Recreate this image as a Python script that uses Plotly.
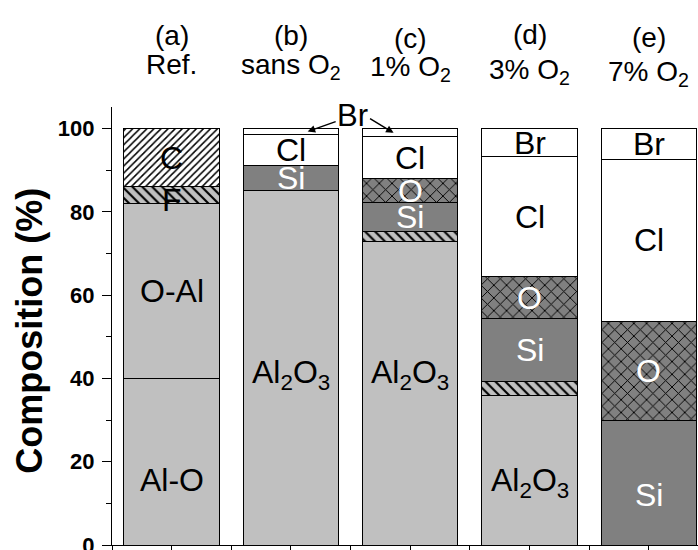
import plotly.graph_objects as go

# ---------------- data ----------------
categories = [0, 1, 2, 3, 4]
header_top = ["(a)", "(b)", "(c)", "(d)", "(e)"]
header_bottom = ["Ref.", "sans O<sub>2</sub>", "1% O<sub>2</sub>", "3% O<sub>2</sub>", "7% O<sub>2</sub>"]

al = [40.0, 85.1, 73.0, 36.0, None]      # Al-O (a) / Al2O3 (b-d)
o_al = [42.0, None, None, None, None]    # O-Al (a)
f = [4.0, None, 2.2, 3.3, None]
si = [None, 6.1, 7.0, 15.1, 30.0]
o = [None, None, 5.8, 10.0, 23.6]
c = [14.0, None, None, None, None]
cl = [None, 7.4, 10.0, 28.8, 39.1]
br = [None, 1.4, 2.0, 6.8, 7.3]

y_ticks = [0, 20, 40, 60, 80, 100]

FONT = "Arial, 'Liberation Sans', sans-serif"

series = [
    ("Al", al, dict(color="#C0C0C0")),
    ("O-Al", o_al, dict(color="#C0C0C0")),
    ("F", f, dict(color="#C0C0C0", pattern=dict(shape="\\", fgcolor="black", bgcolor="#C0C0C0", size=7, solidity=0.3))),
    ("Si", si, dict(color="#808080")),
    ("O", o, dict(color="#808080", pattern=dict(shape="x", fgcolor="black", bgcolor="#808080", size=9, solidity=0.2))),
    ("C", c, dict(color="white", pattern=dict(shape="/", fgcolor="black", bgcolor="white", size=5, solidity=0.3))),
    ("Cl", cl, dict(color="white")),
    ("Br", br, dict(color="white")),
]

fig = go.Figure()
for name, vals, mk in series:
    mk = dict(mk)
    mk["line"] = dict(color="black", width=1)
    fig.add_trace(go.Bar(x=categories, y=vals, name=name, width=0.8, marker=mk,
                         showlegend=False, hoverinfo="skip"))

# segment bases
bases = {}
for i in categories:
    cum = 0.0
    for name, vals, _ in series:
        v = vals[i]
        if v is not None:
            bases[(i, name)] = (cum, v)
            cum += v

# in-bar labels: (category, component, text, colour, offset in %)
labels = [
    (0, "C", "C", "black", 0), (0, "F", "F", "black", -1.2),
    (0, "O-Al", "O-Al", "black", 0), (0, "Al", "Al-O", "black", -4.5),
    (1, "Cl", "Cl", "black", 0), (1, "Si", "Si", "white", 0),
    (1, "Al", "Al<sub>2</sub>O<sub>3</sub>", "black", -1.5),
    (2, "Cl", "Cl", "black", 0), (2, "O", "O", "white", 0),
    (2, "Si", "Si", "white", 0), (2, "Al", "Al<sub>2</sub>O<sub>3</sub>", "black", 4.5),
    (3, "Br", "Br", "black", 0), (3, "Cl", "Cl", "black", 0),
    (3, "O", "O", "white", 0), (3, "Si", "Si", "white", 0),
    (3, "Al", "Al<sub>2</sub>O<sub>3</sub>", "black", -3),
    (4, "Br", "Br", "black", 0), (4, "Cl", "Cl", "black", 0),
    (4, "O", "O", "white", 0), (4, "Si", "Si", "white", -3),
]
annotations = []
for i, comp, txt, col, off in labels:
    b, v = bases[(i, comp)]
    annotations.append(dict(x=i, y=b + v / 2 + off, xref="x", yref="y", text=txt,
                            showarrow=False, font=dict(family=FONT, size=32, color=col),
                            xanchor="center", yanchor="middle"))

# header labels (vertical nudges in paper units)
top_shift = [0.0, 0.0, -0.006, 0.003, -0.005]
bot_shift = [0.0, 0.0, -0.006, -0.012, -0.018]
for i in categories:
    annotations.append(dict(x=i, y=1.163 + top_shift[i], xref="x", yref="paper", text=header_top[i],
                            showarrow=False, font=dict(family=FONT, size=28, color="black"),
                            xanchor="center", yanchor="middle"))
    annotations.append(dict(x=i, y=1.138 + bot_shift[i], xref="x", yref="paper", text=header_bottom[i],
                            showarrow=False, font=dict(family=FONT, size=28, color="black"),
                            xanchor="center", yanchor="top"))

# Br arrows
bb, bv = bases[(1, "Br")]
cb, cv = bases[(2, "Br")]
annotations.append(dict(x=1.14, y=bb + bv / 2, xref="x", yref="y", text="Br",
                        showarrow=True, ax=45, ay=-16, arrowhead=2, arrowsize=1,
                        arrowwidth=1.5, arrowcolor="black",
                        font=dict(family=FONT, size=31, color="black")))
annotations.append(dict(x=1.86, y=cb + cv / 2, xref="x", yref="y", text="",
                        showarrow=True, ax=-25, ay=-15, arrowhead=2, arrowsize=1,
                        arrowwidth=1.5, arrowcolor="black"))

# y-axis title
annotations.append(dict(x=-0.14, y=0.489, xref="paper", yref="paper", text="Composition (%)",
                        textangle=-90, showarrow=False,
                        font=dict(family=FONT, size=36, color="black", weight="bold"),
                        xanchor="center", yanchor="middle"))

fig.update_layout(
    template="none",
    width=698, height=550,
    margin=dict(l=112, r=0, t=107, b=5, autoexpand=False),
    barmode="stack",
    plot_bgcolor="white", paper_bgcolor="white",
    annotations=annotations,
    xaxis=dict(range=[-0.5, 4.412], showline=True, linecolor="black", linewidth=1.3,
               ticks="outside", ticklen=6, tickwidth=1.3, tickcolor="black",
               tickvals=[k / 2 - 0.5 for k in range(11)], showticklabels=False,
               showgrid=False, zeroline=False, automargin=False),
    yaxis=dict(range=[0, 105.2], showline=True, linecolor="black", linewidth=1.3,
               ticks="outside", ticklen=9, tickwidth=1.3, tickcolor="black",
               tickvals=y_ticks, ticklabeloverflow="allow", ticklabelstandoff=3,
               tickfont=dict(family=FONT, size=22, color="black", weight="bold"),
               minor=dict(tickvals=[10, 30, 50, 70, 90], ticks="outside", ticklen=5,
                          tickwidth=1.3, tickcolor="black"),
               showgrid=False, zeroline=False, automargin=False),
)

fig.write_html("out.html", config={"displayModeBar": False},
               post_script="document.body.style.margin='0';document.body.style.overflow='hidden';")
